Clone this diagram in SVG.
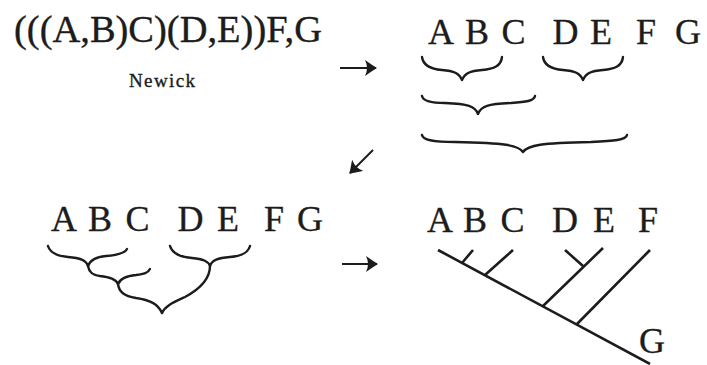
<svg xmlns="http://www.w3.org/2000/svg" width="707" height="365" viewBox="0 0 707 365">
  <defs>
    <style>
      .lbl { font-family: "Liberation Serif", "DejaVu Serif", serif; fill: #1c1c1c; stroke: #1c1c1c; stroke-width: 0.35; }
      .leaf { font-size: 36px; text-anchor: middle; }
      .brace { fill: none; stroke: #1c1c1c; stroke-width: 2.4; stroke-linecap: round; stroke-linejoin: round; }
      .branch { fill: none; stroke: #1c1c1c; stroke-width: 2.6; stroke-linecap: butt; }
      .arrow { fill: none; stroke: #1c1c1c; stroke-width: 2; marker-end: url(#head); }
    </style>
    <marker id="head" viewBox="0 0 12 16" refX="11" refY="8" markerWidth="12" markerHeight="16" markerUnits="userSpaceOnUse" orient="auto">
      <path d="M0,0 Q7,5 12,8 Q7,11 0,16 Q4,8 0,0 Z" fill="#1c1c1c"/>
    </marker>
  </defs>
  <rect width="707" height="365" fill="#ffffff"/>

  <!-- Newick string -->
  <g id="newick">
    <text class="lbl" x="14" y="42" font-size="38" textLength="308" lengthAdjust="spacingAndGlyphs">(((A,B)C)(D,E))F,G</text>
    <text class="lbl" x="129" y="87" font-size="19" stroke-width="0.5" textLength="66" lengthAdjust="spacing">Newick</text>
  </g>

  <!-- Nested brackets under the leaves -->
  <g id="brackets">
    <text class="lbl leaf" y="44"><tspan x="441">A</tspan><tspan x="477">B</tspan><tspan x="513.5">C</tspan><tspan x="565.5">D</tspan><tspan x="601">E</tspan><tspan x="646">F</tspan><tspan x="688">G</tspan></text>
    <path class="brace" d="M422,57 C423,65 430,69 442,70 C454,71 459,73 462,80 C465,73 470,71 482,70 C494,69 501,66 502,57"/>
    <path class="brace" d="M543,57 C544,65 551,69 563,70 C575,71 580,73 583,80 C586,73 591,71 603,70 C615,69 622,66 623,57"/>
    <path class="brace" d="M422,96 C423,101 430,103 445,103 C468,104 475,106 478,114 C481,106 488,104 511,103 C526,102 534,101 535,96"/>
    <path class="brace" stroke-width="2.8" d="M422,135 C423,140 432,142 455,142 C505,143 518,145 523,152 C528,145 541,143 591,142 C614,141 626,140 627,135"/>
  </g>

  <!-- Joined brackets -->
  <g id="joined">
    <text class="lbl leaf" y="231"><tspan x="64">A</tspan><tspan x="100">B</tspan><tspan x="137.5">C</tspan><tspan x="190.5">D</tspan><tspan x="228">E</tspan><tspan x="274">F</tspan><tspan x="310">G</tspan></text>
    <path class="brace" d="M48,246 C50,253 58,256 68,257 C80,258 86,260 88,266 C90,260 96,257 106,256 C118,255 125,253 127,249"/>
    <path class="brace" d="M88,266 C89,272 92,275 100,276 C110,277 116,279 118,284 C120,279 126,276 136,275 C144,274 148,273 150,269"/>
    <path class="brace" d="M118,284 C119,292 124,296 136,298 C150,300 158,304 162,313"/>
    <path class="brace" d="M170,246 C172,253 180,257 192,258 C203,259 208,261 210,266 C212,260 218,258 230,257 C242,256 248,253 250,246"/>
    <path class="brace" d="M210,266 C210,280 198,290 185,297 C172,303 165,306 162,313"/>
  </g>

  <!-- Tree drawing -->
  <g id="tree">
    <text class="lbl leaf" y="232"><tspan x="440">A</tspan><tspan x="475">B</tspan><tspan x="512.5">C</tspan><tspan x="565">D</tspan><tspan x="604">E</tspan><tspan x="648">F</tspan></text>
    <text class="lbl leaf" x="652" y="353">G</text>
    <path class="branch" d="M438,250 L650,364"/>
    <path class="branch" d="M462,263 L473,250"/>
    <path class="branch" d="M485,275 L513,250"/>
    <path class="branch" d="M565,250 L583,266"/>
    <path class="branch" d="M543,306 L603,248"/>
    <path class="branch" d="M577,324 L650,250"/>
  </g>

  <!-- Step arrows -->
  <g id="connectors">
    <path class="arrow" d="M340,68 L376,68"/>
    <path class="arrow" d="M373,150 L350,173"/>
    <path class="arrow" d="M342,264 L377,264"/>
  </g>
</svg>
